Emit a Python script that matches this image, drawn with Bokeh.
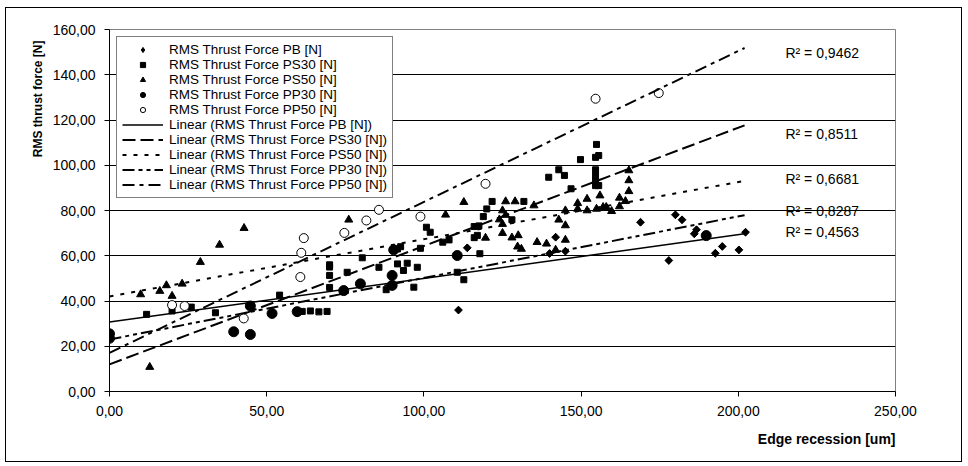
import math
from bokeh.plotting import figure
from bokeh.models import (Range1d, FixedTicker, CustomJSTickFormatter, Legend,
                          LegendItem, Label, Title)
from bokeh.embed import file_html
from bokeh.resources import INLINE

# ---------------- data ----------------
pb_x = [111, 113.8, 140, 141.9, 145, 168.9, 177.9, 180, 182.1, 186, 186.7, 192.7, 194.9, 200.2, 202.3]
pb_y = [36, 63.5, 61, 68.2, 62, 74.8, 57.9, 78.1, 75.9, 69.7, 71.5, 61.1, 64.1, 62.6, 70.4]

ps30_x = [11.8, 19.9, 26, 33.7, 54.1, 61.3, 63.9, 66.6, 69.2, 70, 70, 70, 70, 75.6, 80.4, 85.7, 88,
          91.6, 91.6, 92.6, 93.5, 94.7, 96.8, 97.9, 98.9, 100.8, 102, 106, 108,
          110.6, 112.7, 116, 117.5, 116, 117, 117.8, 118.9, 120, 121.7, 128, 131.8,
          139.7, 142.9, 144.7, 146.8, 149.8, 154.6, 155.6, 154.9, 154.6, 154.6, 154.6,
          154.6, 155.6]
ps30_y = [34.1, 35.6, 37.3, 34.8, 42.6, 35.4, 35.6, 35.2, 35.4, 46, 51.3, 55, 56, 52.7, 59.1, 54.9, 45,
          56.4, 63, 64, 53.5, 56.7, 46.1, 54.9, 63.3, 72.6, 70.4, 66, 67,
          52.7, 49.4, 72.9, 73.2, 68, 69, 60.9, 77.3, 80.7, 84, 75.9, 84,
          94.7, 98, 95.5, 89.6, 102.5, 103.5, 104.3, 109.2, 98, 95.5, 93,
          91, 91]

ps50_x = [9.9, 12.8, 16, 18.1, 19.9, 23.1, 28.9, 35, 42.8, 76.1, 106.9, 112.7, 119.6, 126, 129,
          125, 126, 124, 125, 125, 128, 130, 135, 136, 129.8, 131, 139, 141.9, 142.9,
          145, 145, 145, 148.9, 148.9, 151.9, 151.9, 154.9, 156, 157, 158, 159.7, 162.2,
          162.2, 164.1, 165.2, 165.2, 165.2]
ps50_y = [42.9, 10.8, 44.4, 46.9, 42.2, 47.6, 57.2, 64.8, 72.2, 75.9, 78.1, 83.7, 67.9, 84, 84,
          80, 78, 76, 74, 70, 68, 69, 82.2, 66, 64, 63, 65.3, 62.6, 75.9,
          80, 73.4, 67, 80.7, 83.2, 85.1, 80, 80.7, 86.6, 81.5, 81.5, 79.7, 85.6,
          81.8, 84.1, 88.5, 93.3, 97.7]

pp30_x = [0, 0, 39.5, 44.8, 44.8, 51.7, 59.7, 74.5, 79.8, 89.9, 89.9, 90.4, 110.6, 189.8]
pp30_y = [25.5, 23.5, 26.4, 25.2, 37.8, 34.5, 35.3, 44.6, 47.6, 46.9, 51.3, 62.6, 60.1, 68.9]

pp50_x = [19.9, 23.9, 42.7, 60.7, 61, 61.8, 74.7, 81.7, 85.7, 98.9, 119.6, 154.6, 174.7]
pp50_y = [38.2, 37.8, 32.3, 50.6, 61.3, 67.8, 70.1, 75.6, 80.3, 77.3, 91.8, 129.4, 131.9]

series_names = ["RMS Thrust Force PB [N]", "RMS Thrust Force PS30 [N]",
                "RMS Thrust Force PS50 [N]", "RMS Thrust Force PP30 [N]",
                "RMS Thrust Force PP50 [N]"]
trend_intercept = [30.7, 12.0, 42.0, 23.0, 17.1]
trend_slope = [0.193, 0.523, 0.253, 0.272, 0.667]
trend_x = [0.0, 202.0]
r2_text = ["R\u00b2 = 0,4563", "R\u00b2 = 0,8511", "R\u00b2 = 0,6681",
           "R\u00b2 = 0,8287", "R\u00b2 = 0,9462"]

x_ticks = [0, 50, 100, 150, 200, 250]
y_ticks = [0, 20, 40, 60, 80, 100, 120, 140, 160]

# ---------------- layout / style ----------------
FONT = "Liberation Sans"
r2_pos_x = 215
r2_pos_y = [70.7, 114.0, 94.1, 79.6, 149.4]

p = figure(width=957, height=455, x_range=Range1d(0, 250), y_range=Range1d(0, 160),
           output_backend="svg", toolbar_location=None,
           min_border_left=103, min_border_right=68, min_border_top=21, min_border_bottom=72)
p.background_fill_color = "white"
p.border_fill_color = "white"
p.outline_line_color = "#808080"
p.outline_line_width = 1

for ax, ticks in ((p.xaxis[0], x_ticks), (p.yaxis[0], y_ticks)):
    ax.ticker = FixedTicker(ticks=ticks)
    ax.formatter = CustomJSTickFormatter(code="return tick.toFixed(2).replace('.', ',');")
    ax.major_label_text_font = FONT
    ax.major_label_text_font_size = "14px"
    ax.major_label_text_color = "black"
    ax.major_tick_out = 5
    ax.major_tick_in = 0
    ax.minor_tick_line_color = None
    ax.axis_line_color = "black"
    ax.major_tick_line_color = "black"
    ax.major_label_standoff = 9

p.xgrid.grid_line_color = None
p.ygrid.ticker = FixedTicker(ticks=y_ticks)
p.ygrid.grid_line_color = "black"
p.ygrid.grid_line_width = 1

# scatter series
# diamond key glyph for the legend, hidden underneath the rotated squares
r_pb_key = p.scatter(pb_x, pb_y, marker="diamond", size=7, fill_color="black", line_color="black")
r_pb = p.scatter(pb_x, pb_y, marker="square", angle=math.pi / 4, size=5.5,
                 fill_color="black", line_color="black")
r_ps30 = p.scatter(ps30_x, ps30_y, marker="square", size=6,
                   fill_color="black", line_color="black")
r_ps50 = p.scatter(ps50_x, ps50_y, marker="triangle", size=8,
                   fill_color="black", line_color="black")
r_pp30 = p.scatter(pp30_x, pp30_y, marker="circle", size=10,
                   fill_color="black", line_color="black")
r_pp50 = p.scatter(pp50_x, pp50_y, marker="circle", size=9,
                   fill_color="white", line_color="black", line_width=1)

# trend lines
dashes = ["solid", "13 5", "4 7", "12 4 4 4 4 4", "12 5 4 5"]
widths = [1.5, 2, 2, 2, 2]
line_rs = []
for a, b, d, w in zip(trend_intercept, trend_slope, dashes, widths):
    ys = [a + b * x for x in trend_x]
    line_rs.append(p.line(trend_x, ys, line_color="black", line_width=w, line_dash=d))

items = []
for name, r in zip(series_names, [r_pb_key, r_ps30, r_ps50, r_pp30, r_pp50]):
    items.append(LegendItem(label=name, renderers=[r]))
for name, r in zip(series_names, line_rs):
    items.append(LegendItem(label="Linear (" + name + ")", renderers=[r]))

legend = Legend(items=items, location="top_left", margin=7, padding=5, spacing=0,
                label_height=13, glyph_height=13, glyph_width=41, label_standoff=6,
                label_text_font=FONT, label_text_font_size="13.5px",
                label_text_color="black",
                border_line_color="black", border_line_width=1,
                background_fill_color="white", background_fill_alpha=1)
p.add_layout(legend)

for t, yy in zip(r2_text, r2_pos_y):
    p.add_layout(Label(x=r2_pos_x, y=yy, text=t, text_font=FONT,
                       text_font_size="14px", text_align="left",
                       text_baseline="middle", text_color="black"))

p.add_layout(Title(text="RMS thrust force [N]", align="right", text_font=FONT,
                   text_font_size="12px", text_font_style="bold", text_color="black",
                   standoff=10, offset=11), "left")
p.add_layout(Title(text="Edge recession [um]", align="right", text_font=FONT,
                   text_font_size="14px", text_font_style="bold", text_color="black",
                   standoff=20), "below")

p.styles = {"border": "1px solid black", "margin": "7px 0 0 5px"}

open("out.html", "w").write(file_html(p, INLINE))
